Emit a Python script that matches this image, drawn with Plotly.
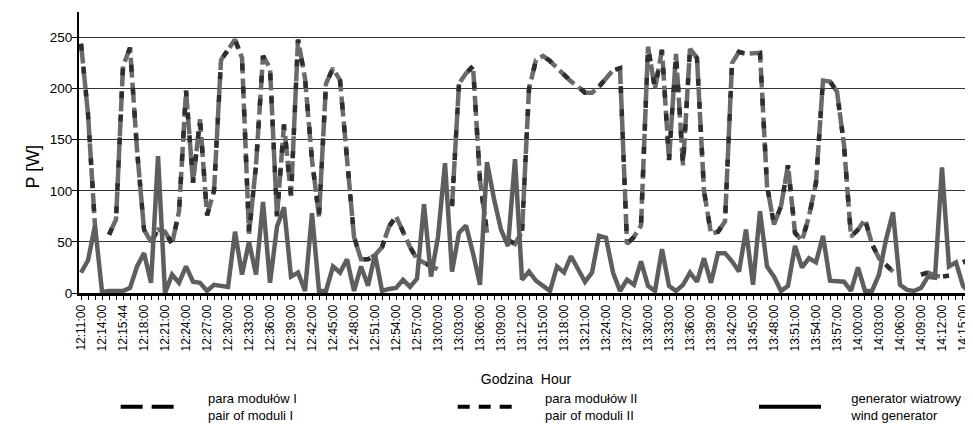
import plotly.graph_objects as go

# ---------------- data ----------------
tick_labels = [
    "12:11:00", "12:14:00", "12:15:44", "12:18:00", "12:21:00", "12:24:00", "12:27:00",
    "12:30:00", "12:33:00", "12:36:00", "12:39:00", "12:42:00", "12:45:00", "12:48:00",
    "12:51:00", "12:54:00", "12:57:00", "13:00:00", "13:03:00", "13:06:00", "13:09:00",
    "13:12:00", "13:15:00", "13:18:00", "13:21:00", "13:24:00", "13:27:00", "13:30:00",
    "13:33:00", "13:36:00", "13:39:00", "13:42:00", "13:45:00", "13:48:00", "13:51:00",
    "13:54:00", "13:57:00", "14:00:00", "14:03:00", "14:06:00", "14:09:00", "14:12:00",
    "14:15:00",
]

moduly_I = [
    244, 175, 65, None, 57, 72, 222, 240, 140, 62, 50, 62, 60, 48, 80, 198, 108, 170, 76, 100,
    228, 238, 248, 230, 58, 125, 232, 220, 75, 165, 95, 248, 210, 130, 75, 205, 220, 208, 130, 55,
    33, 33, 37, 45, 65, 75, 60, 45, 33, 30, 26, 23, None, 85, 205, 215, 222, 110, 59, None,
    None, 52, 48, 60, 200, 228, 232, 227, 220, 213, 207, 202, 196, 196, 202, 210, 218, 220, 48, 55,
    66, 241, 200, 238, 130, 234, 125, 239, 230, 100, 58, 60, 70, 225, 236, 234, 234, 235, 105, 67,
    85, 125, 59, 51, 75, 108, 208, 207, 197, 145, 55, 62, 72, 48, 34, 27, 21, None, None, None,
    18, 20, 17, 16, 17, None, 30, 33,
]

moduly_II = [
    244, 175, 65, None, 57, 72, 222, 240, 140, 62, 50, 62, 60, 48, 80, 198, 108, 170, 76, 100,
    228, 238, 248, 230, 58, 125, 232, 220, 75, 165, 95, 248, 210, 130, 75, 205, 220, 208, 130, 55,
    33, 33, 37, 45, 65, 75, 60, 45, 33, 30, 26, 23, None, 85, 205, 215, 222, 110, 59, None,
    None, 52, 48, 60, 200, 228, 232, 227, 220, 213, 207, 202, 196, 196, 202, 210, 218, 220, 48, 55,
    66, 241, 200, 238, 130, 234, 125, 239, 230, 100, 58, 60, 70, 225, 236, 234, 234, 235, 105, 67,
    85, 125, 59, 51, 75, 108, 208, 207, 197, 145, 55, 62, 72, 48, 34, 27, 21, None, None, None,
    18, 20, 17, 16, 17, None, 30, 33,
]

wiatr = [
    20, 32, 66, 1, 2, 2, 2, 5, 26, 39, 10, 134, 0, 18, 10, 26, 11, 10, 2, 8,
    7, 6, 60, 18, 50, 18, 89, 10, 65, 84, 16, 20, 2, 78, 2, 2, 26, 20, 33, 2,
    26, 7, 38, 2, 4, 5, 13, 6, 14, 87, 16, 55, 127, 21, 59, 66, 39, 8, 128, 92,
    62, 46, 131, 13, 21, 12, 7, 2, 26, 20, 36, 23, 11, 20, 56, 54, 20, 2, 13, 8,
    31, 7, 2, 43, 7, 2, 8, 20, 11, 34, 10, 39, 39, 31, 21, 62, 8, 80, 26, 16,
    2, 7, 46, 25, 34, 30, 56, 12, 11, 11, 2, 25, 2, 2, 18, 52, 79, 8, 3, 2,
    5, 16, 15, 123, 26, 30, 7, 0,
]

PAD = "\u00a0" * 7
names = [
    PAD + "para modułów I<br>" + PAD + "pair of moduli I",
    PAD + "para modułów II<br>" + PAD + "pair of moduli II",
    PAD + "generator wiatrowy<br>" + PAD + "wind generator",
]

x_idx = list(range(len(wiatr)))
tickvals = x_idx
ticktext = [tick_labels[j // 3] if j % 3 == 0 and j // 3 < len(tick_labels) else "" for j in x_idx]

FONT = "Liberation Sans, Arial, sans-serif"

fig = go.Figure()

fig.add_trace(go.Scatter(x=x_idx, y=moduly_I, mode="lines", showlegend=False,
                         line=dict(color="#6a6a6a", width=4.5, dash="20px,5px")))
fig.add_trace(go.Scatter(x=x_idx, y=moduly_II, mode="lines", showlegend=False,
                         line=dict(color="#2e2e2e", width=4.5, dash="7px,16px")))
fig.add_trace(go.Scatter(x=x_idx, y=wiatr, mode="lines", showlegend=False,
                         line=dict(color="#5e5e5e", width=4.5)))

# legend entries (black samples as in the original key)
fig.add_trace(go.Scatter(x=[None], y=[None], mode="lines", name=names[0], legend="legend",
                         line=dict(color="black", width=4, dash="22px,9px")))
fig.add_trace(go.Scatter(x=[None], y=[None], mode="lines", name=names[1], legend="legend2",
                         line=dict(color="black", width=4, dash="12px,9px")))
fig.add_trace(go.Scatter(x=[None], y=[None], mode="lines", name=names[2], legend="legend3",
                         line=dict(color="black", width=4)))

leg_common = dict(orientation="h", yanchor="middle", xanchor="left", y=-0.405,
                  font=dict(family=FONT, size=13, color="black"),
                  bgcolor="rgba(0,0,0,0)", borderwidth=0)

# the page body adds an 8px offset, so the figure is drawn 8px smaller on each side
fig.update_layout(
    width=965, height=431,
    margin=dict(l=71, r=0, t=4, b=146, autoexpand=False),
    paper_bgcolor="white", plot_bgcolor="white",
    font=dict(family=FONT, color="black"),
    legend=dict(x=0.041, itemwidth=57, **leg_common),
    legend2=dict(x=0.418, itemwidth=57, **leg_common),
    legend3=dict(x=0.755, itemwidth=62, **leg_common),
    annotations=[dict(text="P [W]", xref="paper", yref="paper", x=0, y=0.45,
                      xanchor="center", yanchor="middle",
                      xshift=-46, textangle=-90, showarrow=False,
                      font=dict(family=FONT, size=18, color="black"))],
)

fig.update_xaxes(
    range=[-0.29, 127.43], tickmode="array", tickvals=tickvals, ticktext=ticktext,
    tickangle=-90, ticks="outside", ticklen=4, tickwidth=1, tickcolor="black",
    tickfont=dict(family=FONT, size=12, color="black"),
    showline=True, linecolor="black", linewidth=3, showgrid=False, zeroline=False,
    title=dict(text="Godzina  Hour", standoff=24, font=dict(family=FONT, size=14, color="black")),
)
fig.update_yaxes(
    range=[0, 275], tickvals=[0, 50, 100, 150, 200, 250], ticks="outside", ticklen=5,
    tickcolor="black", tickfont=dict(family=FONT, size=13.5, color="black"),
    ticklabelstandoff=-3,
    showline=True, linecolor="black", linewidth=2, showgrid=True, gridcolor="#333333",
    gridwidth=1, zeroline=False,
)

fig.write_html("out.html")
